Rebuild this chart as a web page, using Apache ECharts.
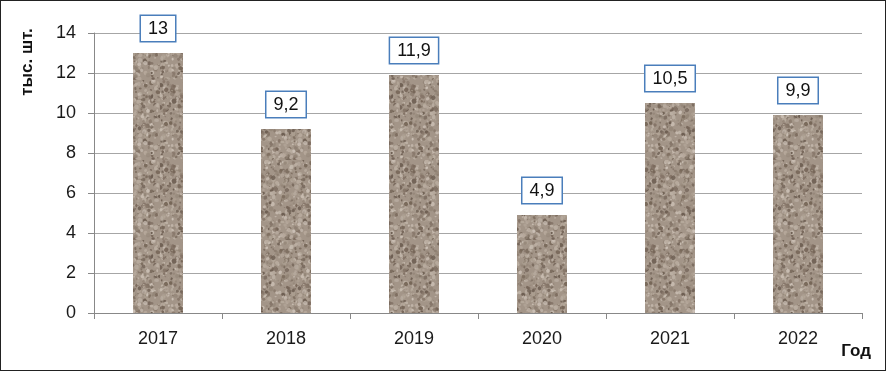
<!DOCTYPE html>
<html>
<head>
<meta charset="utf-8">
<script src="https://cdn.jsdelivr.net/npm/echarts@6/dist/echarts.min.js"></script>
<style>
html, body { margin: 0; padding: 0; background: #fff; }
#frame { width: 886px; height: 371px; box-sizing: border-box; border: 1px solid #222; position: relative; }
#chart { position: absolute; left: -1px; top: -1px; width: 886px; height: 371px; }
</style>
</head>
<body>
<div id="frame"><div id="chart"></div></div>
<script>
const years = ["2017", "2018", "2019", "2020", "2021", "2022"]
const values = [13, 9.2, 11.9, 4.9, 10.5, 9.9]
const yTicks = [0, 2, 4, 6, 8, 10, 12, 14]

// granite-like texture for the bars (seeded so it is the same each run)
function makeTexture() {
	let seed = 7
	const rnd = () => {
		seed = (seed * 16807) % 2147483647
		return (seed - 1) / 2147483646
	}
	const c = document.createElement("canvas")
	c.width = 80
	c.height = 80
	const ctx = c.getContext("2d")
	ctx.fillStyle = "#a39588"
	ctx.fillRect(0, 0, 80, 80)
	const cols = ["#857568", "#776759", "#bcb0a4", "#cbc0b5", "#948678", "#ada092", "#6e5f53", "#b7aa9d"]
	for (let i = 0; i < 700; i++) {
		ctx.fillStyle = cols[(rnd() * cols.length) >> 0]
		ctx.globalAlpha = 0.6 + rnd() * 0.4
		const x = rnd() * 80
		const y = rnd() * 80
		const r = 0.8 + rnd() * 1.6
		ctx.beginPath()
		ctx.ellipse(x, y, r, r * (0.5 + rnd() * 0.6), rnd() * Math.PI, 0, Math.PI * 2)
		ctx.fill()
	}
	return c
}

const chart = echarts.init(document.getElementById("chart"))

const option = {
	animation: false,
	grid: {
		left: 94,
		right: 24,
		top: 33,
		bottom: 58
	},
	xAxis: {
		type: "category",
		data: years,
		axisLine: { lineStyle: { color: "#888", width: 1 } },
		axisTick: { show: true, length: 6, lineStyle: { color: "#888" } },
		axisLabel: { color: "#1a1a1a", fontSize: 18, fontFamily: "Liberation Sans", margin: 17 }
	},
	yAxis: {
		type: "value",
		min: 0,
		max: 14,
		interval: 2,
		axisLine: { show: true, lineStyle: { color: "#888", width: 1 } },
		axisTick: { show: true, length: 6, lineStyle: { color: "#888" } },
		axisLabel: {
			color: "#1a1a1a",
			fontSize: 18,
			fontFamily: "Liberation Sans",
			margin: 18,
			formatter: v => (yTicks.includes(v) ? String(v) : "")
		},
		splitLine: { lineStyle: { color: "#a6a6a6", width: 1 } }
	},
	graphic: [
		{
			type: "text",
			x: 27,
			y: 62,
			rotation: Math.PI / 2,
			style: {
				text: "тыс. шт.",
				fill: "#111",
				font: "bold 17px 'Liberation Sans'",
				align: "center",
				verticalAlign: "middle"
			}
		},
		{
			type: "text",
			x: 871,
			y: 351,
			style: {
				text: "Год",
				fill: "#111",
				font: "bold 17px 'Liberation Sans'",
				align: "right",
				verticalAlign: "middle"
			}
		}
	],
	series: [
		{
			type: "bar",
			data: values,
			barWidth: 50,
			itemStyle: {
				color: { image: makeTexture(), repeat: "repeat" }
			},
			label: {
				show: true,
				position: "top",
				distance: 12,
				formatter: p => String(p.value).replace(".", ","),
				color: "#111",
				fontSize: 18,
				fontFamily: "Liberation Sans",
				backgroundColor: "#fff",
				borderColor: "#4a7ebb",
				borderWidth: 1.5,
				padding: [4, 7, 3, 7]
			}
		}
	]
}

chart.setOption(option)
</script>
</body>
</html>
